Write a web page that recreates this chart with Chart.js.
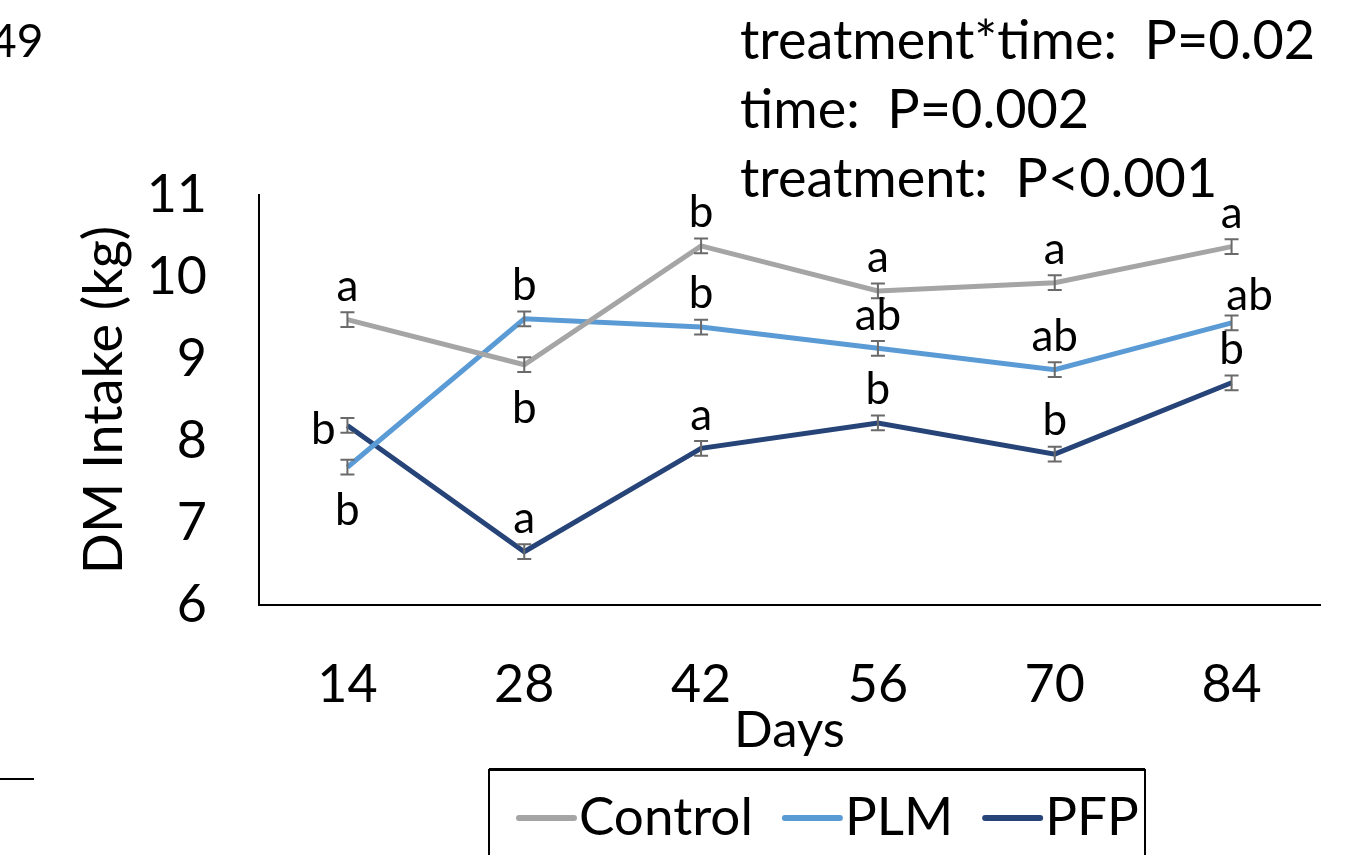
<!DOCTYPE html>
<html>
<head>
<meta charset="utf-8">
<script src="https://cdn.jsdelivr.net/npm/chart.js@4/dist/chart.umd.min.js"></script>
<style>
  html, body { margin: 0; padding: 0; background: #fff; }
  #wrap { width: 1356px; height: 855px; }
</style>
</head>
<body>
<div id="wrap"><canvas id="chart" width="1356" height="855"></canvas></div>
<script>
// data
const days = ['14', '28', '42', '56', '70', '84'];
const controlValues = [9.48, 8.93, 10.38, 9.83, 9.93, 10.37];
const plmValues = [7.68, 9.49, 9.39, 9.13, 8.87, 9.44];
const pfpValues = [8.19, 6.65, 7.91, 8.22, 7.84, 8.71];
const controlSE = [0.09, 0.09, 0.09, 0.09, 0.09, 0.09];
const plmSE = [0.09, 0.09, 0.09, 0.09, 0.09, 0.09];
const pfpSE = [0.09, 0.09, 0.09, 0.09, 0.09, 0.09];
const controlLetters = ['a', 'b', 'b', 'a', 'a', 'a'];
const plmLetters = ['b', 'b', 'b', 'ab', 'ab', 'ab'];
const pfpLetters = ['b', 'a', 'a', 'b', 'b', 'b'];
const controlPlace = ['above', 'below', 'above', 'above', 'above', 'above'];
const plmPlace = ['below', 'above', 'above', 'above', 'above', 'aboveRight'];
const pfpPlace = ['left', 'above', 'above', 'above', 'above', 'above'];
const stats = ['treatment*time:  P=0.02', 'time:  P=0.002', 'treatment:  P<0.001'];

const FONT = 'Lato, "Open Sans", sans-serif';
const canvas = document.getElementById('chart');

// error bars + significance letters
const markPlugin = {
    id: 'marks',
    afterDatasetsDraw(chart) {
        const ctx = chart.ctx;
        const y = chart.scales.y;
        chart.data.datasets.forEach((ds, i) => {
            const meta = chart.getDatasetMeta(i);
            meta.data.forEach((pt, j) => {
                const v = ds.data[j];
                const top = y.getPixelForValue(v + ds.se[j]);
                const bot = y.getPixelForValue(v - ds.se[j]);
                ctx.save();
                ctx.strokeStyle = '#6a6a6a';
                ctx.lineWidth = 2;
                ctx.beginPath();
                ctx.moveTo(pt.x, top); ctx.lineTo(pt.x, bot);
                ctx.moveTo(pt.x - 7, top); ctx.lineTo(pt.x + 7, top);
                ctx.moveTo(pt.x - 7, bot); ctx.lineTo(pt.x + 7, bot);
                ctx.stroke();

                ctx.fillStyle = '#000';
                ctx.font = '44px ' + FONT;
                ctx.textAlign = 'center';
                ctx.textBaseline = 'middle';
                const place = ds.place[j];
                let lx = pt.x, ly = pt.y;
                if (place === 'above') ly = pt.y - 33;
                else if (place === 'below') ly = pt.y + 44;
                else if (place === 'left') { lx = pt.x - 24; ly = pt.y + 4; }
                else if (place === 'aboveRight') { lx = pt.x + 18; ly = pt.y - 27; }
                ctx.fillText(ds.letters[j], lx, ly);
                ctx.restore();
            });
        });
    },
    afterDraw(chart) {
        const ctx = chart.ctx;
        ctx.save();
        ctx.fillStyle = '#000';
        ctx.textBaseline = 'middle';
        ctx.textAlign = 'left';
        ctx.font = '54px ' + FONT;
        stats.forEach((s, k) => ctx.fillText(s, 740, 42 + k * 69));
        ctx.font = '46px ' + FONT;
        ctx.fillText('49', -10, 42);
        ctx.fillRect(0, 778, 34, 2);

        // legend box
        ctx.strokeStyle = '#000';
        ctx.lineWidth = 2;
        ctx.strokeRect(489, 770, 656, 100);
        ctx.fillRect(489, 768, 656, 3);
        ctx.font = '53px ' + FONT;
        let x = 519;
        chart.data.datasets.forEach(ds => {
            ctx.strokeStyle = ds.borderColor;
            ctx.lineWidth = 6;
            ctx.lineCap = 'round';
            ctx.beginPath();
            ctx.moveTo(x, 818); ctx.lineTo(x + 55, 818);
            ctx.stroke();
            ctx.fillText(ds.label, x + 60, 818);
            x += 60 + ctx.measureText(ds.label).width + 32;
        });
        ctx.restore();
    }
};

const series = (label, values, se, letters, place, color) => ({
    label, data: values, se, letters, place,
    borderColor: color, backgroundColor: color,
    borderWidth: 5, pointRadius: 0, tension: 0, fill: false
});

new Chart(canvas, {
    type: 'line',
    data: {
        labels: days,
        datasets: [
            series('Control', controlValues, controlSE, controlLetters, controlPlace, '#a5a5a5'),
            series('PLM', plmValues, plmSE, plmLetters, plmPlace, '#5b9bd5'),
            series('PFP', pfpValues, pfpSE, pfpLetters, pfpPlace, '#264478')
        ]
    },
    options: {
        responsive: false,
        animation: false,
        layout: { padding: { top: 195, right: 36, left: 72, bottom: 94 } },
        plugins: { legend: { display: false }, tooltip: { enabled: false } },
        scales: {
            x: {
                offset: true,
                grid: { display: false, drawTicks: false },
                border: { display: true, color: '#000', width: 2 },
                ticks: { color: '#000', font: { size: 52, family: FONT }, padding: 49 },
                title: { display: true, text: 'Days', color: '#000', font: { size: 51, family: FONT }, padding: 0 },
                afterFit(s) { s.height = 855 - 605 - 94; }
            },
            y: {
                min: 6, max: 11,
                grid: { display: false, drawTicks: false },
                border: { display: true, color: '#000', width: 2 },
                ticks: { stepSize: 1, color: '#000', font: { size: 52, family: FONT }, padding: 52 },
                title: { display: true, text: 'DM Intake (kg)', color: '#000', font: { size: 54, family: FONT }, padding: 0 },
                afterFit(s) { s.width = 259 - 72; }
            }
        }
    },
    plugins: [markPlugin]
});
</script>
</body>
</html>
